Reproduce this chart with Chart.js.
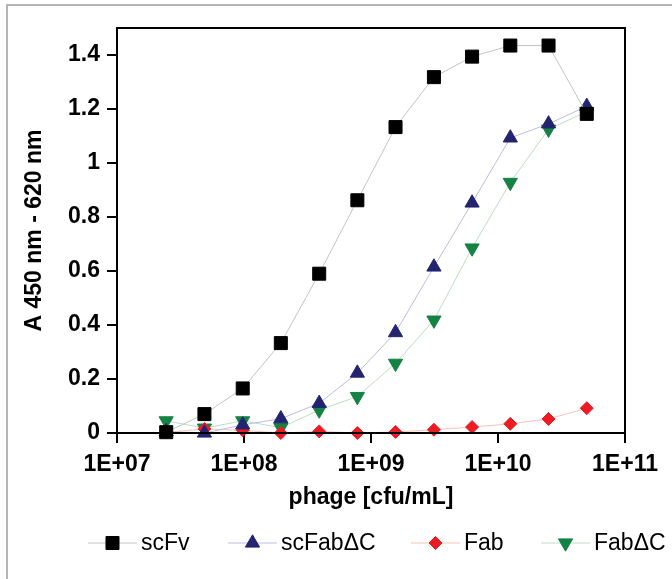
<!DOCTYPE html>
<html>
<head>
<meta charset="utf-8">
<title>ELISA phage</title>
<script src="https://cdn.jsdelivr.net/npm/chart.js"></script>
<style>
  body { margin: 0; background: #fff; }
  #wrap { width: 672px; height: 579px; position: relative; }
</style>
</head>
<body>
<div id="wrap">
  <canvas id="myChart" width="672" height="579"></canvas>
</div>
<script>
// dados
var fagos = [2.44e7, 4.88e7, 9.77e7, 1.95e8, 3.91e8, 7.81e8, 1.56e9, 3.13e9, 6.25e9, 1.25e10, 2.5e10, 5e10];
var scFv = [0.003, 0.07, 0.165, 0.333, 0.59, 0.862, 1.133, 1.318, 1.394, 1.435, 1.435, 1.182];
var scFabDC = [0.005, 0.0, 0.03, 0.053, 0.11, 0.222, 0.372, 0.615, 0.852, 1.093, 1.145, 1.21];
var fab = [0.002, 0.015, 0.01, 0.0, 0.006, 0.0, 0.004, 0.012, 0.022, 0.034, 0.052, 0.092];
var fabDC = [0.045, 0.018, 0.045, 0.02, 0.085, 0.135, 0.258, 0.418, 0.685, 0.928, 1.125, 1.19];
var ticksX = [1e7, 1e8, 1e9, 1e10, 1e11];
var ticksY = [0, 0.2, 0.4, 0.6, 0.8, 1, 1.2, 1.4];

var fonte = 'Arial, "Liberation Sans", sans-serif';

function pontos(valores) {
  return fagos.map(function (x, i) { return { x: x, y: valores[i] }; });
}

function serie(nome, valores, corLinha, corPonto, estilo, raio, rot) {
  return {
    label: nome,
    data: pontos(valores),
    borderColor: corLinha,
    borderWidth: 1,
    backgroundColor: corPonto,
    pointBackgroundColor: corPonto,
    pointBorderColor: corPonto,
    pointBorderWidth: 1,
    pointStyle: estilo,
    pointRadius: raio,
    pointHoverRadius: raio,
    pointRotation: rot,
    tension: 0,
    clip: false
  };
}

// moldura do grafico e legenda desenhada a mao
var extras = {
  id: 'extras',
  beforeDraw: function (chart) {
    var ctx = chart.ctx;
    ctx.save();
    ctx.strokeStyle = '#b4b4b4';
    ctx.lineWidth = 2;
    ctx.beginPath();
    ctx.moveTo(7, 579);
    ctx.lineTo(7, 5);
    ctx.lineTo(672, 5);
    ctx.stroke();
    ctx.restore();
  },
  afterDraw: function (chart) {
    var ctx = chart.ctx;
    var a = chart.chartArea;
    ctx.save();
    ctx.strokeStyle = '#000';
    ctx.lineWidth = 2;
    ctx.strokeRect(a.left, a.top, a.right - a.left, a.bottom - a.top);

    var inicio = [88, 228, 411, 541];
    var yLeg = 543;
    ctx.font = '23px ' + fonte;
    ctx.textBaseline = 'middle';
    chart.data.datasets.forEach(function (ds, i) {
      var x = inicio[i];
      ctx.strokeStyle = ds.borderColor;
      ctx.lineWidth = 1;
      ctx.beginPath();
      ctx.moveTo(x, yLeg);
      ctx.lineTo(x + 49, yLeg);
      ctx.stroke();
      ctx.fillStyle = ds.pointBackgroundColor;
      ctx.strokeStyle = ds.pointBorderColor;
      Chart.helpers.drawPoint(ctx, {
        pointStyle: ds.pointStyle,
        radius: ds.pointRadius,
        rotation: ds.pointRotation,
        borderWidth: 1
      }, x + 24.5, yLeg);
      ctx.fillStyle = '#000';
      ctx.fillText(ds.label, x + 53, yLeg + 1);
    });
    ctx.restore();
  }
};

var ctx = document.getElementById('myChart').getContext('2d');
var myChart = new Chart(ctx, {
  type: 'line',
  data: {
    datasets: [
      serie('scFv', scFv, '#c4c4c4', '#000000', 'rect', 9.2, 0),
      serie('scFab\u0394C', scFabDC, '#bcbce2', '#23246f', 'triangle', 8.2, 0),
      serie('Fab', fab, '#f6c4b4', '#ec1c24', 'rectRot', 6.5, 0),
      serie('Fab\u0394C', fabDC, '#bfdcc4', '#148242', 'triangle', 8.2, 180)
    ]
  },
  options: {
    responsive: false,
    animation: false,
    layout: { padding: { left: 8, right: 47, top: 28, bottom: 0 } },
    plugins: {
      legend: { display: false },
      tooltip: { enabled: false }
    },
    scales: {
      x: {
        type: 'logarithmic',
        min: 1e7,
        max: 1e11,
        afterBuildTicks: function (scale) {
          scale.ticks = ticksX.map(function (v) { return { value: v }; });
        },
        afterFit: function (scale) { scale.height = 146; },
        border: { display: false },
        grid: {
          drawOnChartArea: false,
          drawTicks: true,
          tickLength: 10,
          color: '#000',
          lineWidth: 2
        },
        ticks: {
          autoSkip: false,
          maxRotation: 0,
          padding: 8,
          color: '#000',
          font: { family: fonte, size: 23, weight: 'bold' },
          callback: function (v) {
            var e = Math.round(Math.log10(v));
            return '1E+' + (e < 10 ? '0' + e : e);
          }
        },
        title: {
          display: true,
          text: 'phage [cfu/mL]',
          color: '#000',
          font: { family: fonte, size: 23, weight: 'bold' },
          padding: { top: 0, bottom: 68 }
        }
      },
      y: {
        min: 0,
        max: 1.5,
        afterBuildTicks: function (scale) {
          scale.ticks = ticksY.map(function (v) { return { value: v }; });
        },
        afterFit: function (scale) { scale.width = 109; },
        border: { display: false },
        grid: {
          drawOnChartArea: false,
          drawTicks: true,
          tickLength: 10,
          color: '#000',
          lineWidth: 2
        },
        ticks: {
          padding: 7,
          color: '#000',
          font: { family: fonte, size: 23, weight: 'bold' },
          callback: function (v) { return String(Math.round(v * 10) / 10); }
        },
        title: {
          display: true,
          text: 'A 450 nm - 620 nm',
          color: '#000',
          font: { family: fonte, size: 23, weight: 'bold' },
          padding: { top: 13, bottom: 0 }
        }
      }
    }
  },
  plugins: [extras]
});
</script>
</body>
</html>
